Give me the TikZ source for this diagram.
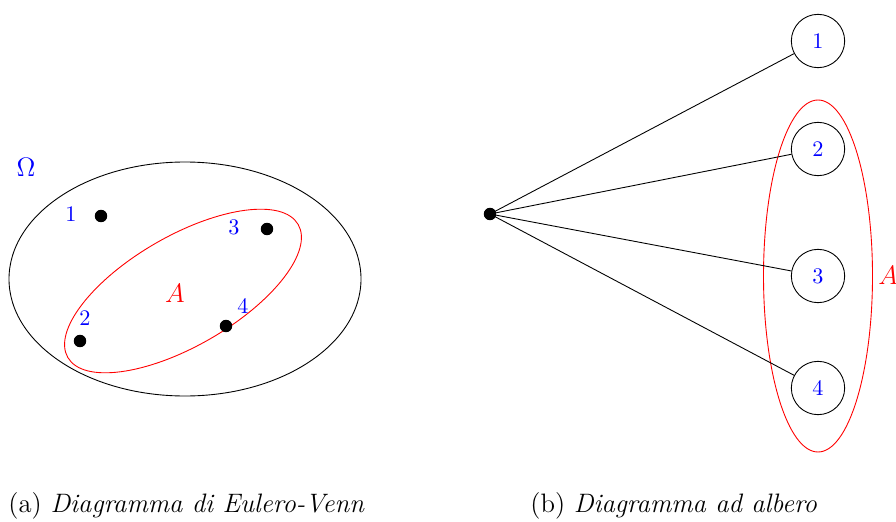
\documentclass[tikz,border=0pt]{standalone}
\usetikzlibrary{shapes.geometric}
\begin{document}
\begin{tikzpicture}[x=0.45pt,y=-0.45pt,
  dot/.style={circle,fill=black,inner sep=0pt,minimum size=5.6pt},
  num/.style={text=blue,inner sep=0pt},
  leaf/.style={circle,draw,thin,minimum size=24pt,inner sep=0pt,text=blue},
  link/.style={draw,thin},
  setA/.style={draw=red,thin},
  captext/.style={anchor=base west,inner sep=0pt,font=\large}]
\useasboundingbox (0,0) rectangle (896,522);
% (a) Euler-Venn
\draw[thin] (185,279) ellipse [x radius=176, y radius=117];
\draw[setA] (183,291) ellipse [x radius=133, y radius=55, rotate=30];
\node[num,font=\large] (om) at (26,167) {$\Omega$};
\node[dot] (p1) at (101,216) {};
\node[dot] (p3) at (267,229) {};
\node[dot] (p2) at (80,341) {};
\node[dot] (p4) at (226,326) {};
\node[num] (l1) at (71,214) {$1$};
\node[num] (l3) at (234,227) {$3$};
\node[num] (l2) at (85,318) {$2$};
\node[num] (l4) at (243,306) {$4$};
\node[text=red,inner sep=0pt,font=\large] (la) at (175,293) {$A$};
% (b) tree
\draw[setA] (818,276) ellipse [x radius=54.5, y radius=176];
\node[dot] (r) at (490,214) {};
\node[leaf] (n1) at (818,41) {$1$};
\node[leaf] (n2) at (818,149) {$2$};
\node[leaf] (n3) at (818,276) {$3$};
\node[leaf] (n4) at (818,388) {$4$};
\foreach \n in {n1,n2,n3,n4} \draw[link] (r.center) -- (\n);
\node[text=red,inner sep=0pt,font=\large,anchor=west] (lb) at (878,275) {$A$};
% captions
\node[captext] (ca) at (8,512) {(a) \textit{Diagramma di Eulero-Venn}};
\node[captext] (cb) at (530,512) {(b) \textit{Diagramma ad albero}};
\end{tikzpicture}
\end{document}
